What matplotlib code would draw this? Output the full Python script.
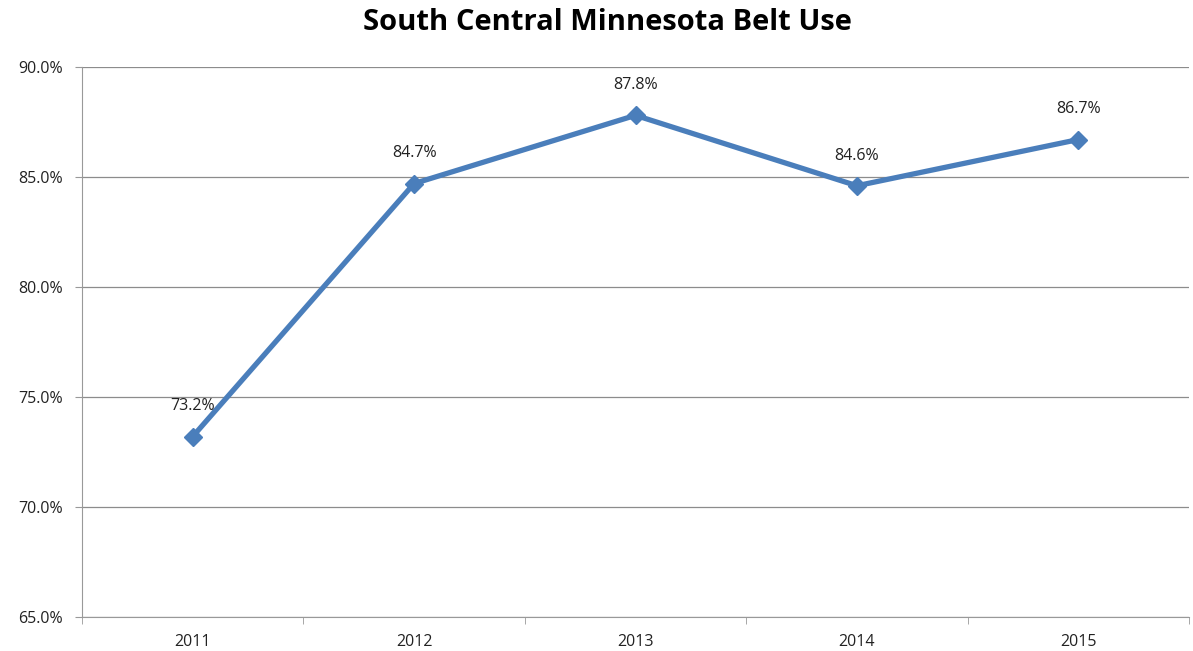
import matplotlib.pyplot as plt
import numpy as np
from matplotlib.ticker import FuncFormatter

plt.rcParams['font.family'] = ['Open Sans', 'DejaVu Sans']

years = ['2011', '2012', '2013', '2014', '2015']
belt_use = [73.2, 84.7, 87.8, 84.6, 86.7]

fig = plt.figure(figsize=(11.93, 6.51), dpi=100)
ax = fig.add_axes([0.0687, 0.0522, 0.928, 0.845])

x = np.arange(len(years))
ax.plot(x, belt_use, color='#4A7EBB', linewidth=3.8, marker='D', markersize=9,
        markeredgecolor='#4A7EBB', markerfacecolor='#4A7EBB')

# data labels
for xi, yi in zip(x, belt_use):
    ax.annotate('%.1f%%' % yi, (xi, yi), xytext=(0, 16), textcoords='offset points',
                ha='center', va='bottom', fontsize=11.5, color='#222222')

ax.set_xlim(-0.5, len(years) - 0.5)
ax.set_ylim(65, 90)
ax.set_yticks(np.arange(65, 90.1, 5))
ax.yaxis.set_major_formatter(FuncFormatter(lambda v, p: '%.1f%%' % v))
ax.set_xticks(x)
ax.set_xticklabels(years)
ax.set_xticks(np.arange(-0.5, len(years)), minor=True)
ax.tick_params(axis='x', which='major', length=0, pad=12, labelsize=11.5, labelcolor='#222222')
ax.tick_params(axis='x', which='minor', length=5, color='#999999', direction='out')
ax.tick_params(axis='y', length=5, color='#999999', labelsize=11.5, labelcolor='#222222', pad=9)

ax.grid(axis='y', color='#8c8c8c', linewidth=0.9)
ax.set_axisbelow(True)
for s in ['top', 'right']:
    ax.spines[s].set_visible(False)
ax.spines['left'].set_color('#999999')
ax.spines['bottom'].set_color('#999999')

fig.text(0.509, 0.966, 'South Central Minnesota Belt Use', ha='center', va='center',
         fontsize=21, fontweight='bold', color='black')

fig.savefig('out.png', dpi=100)
